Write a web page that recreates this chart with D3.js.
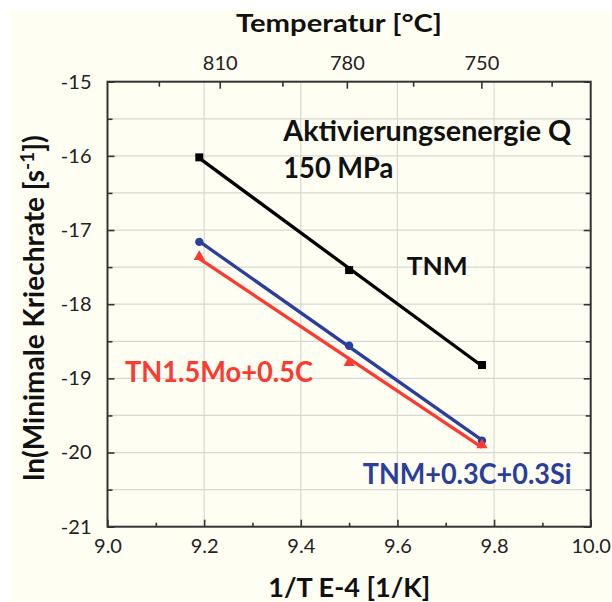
<!DOCTYPE html>
<html>
<head>
<meta charset="utf-8">
<script src="https://cdn.jsdelivr.net/npm/d3@7"></script>
<style>
  body { margin: 0; background: #fff; }
  svg { display: block; }
  text { font-family: Lato, "Open Sans", sans-serif; }
</style>
</head>
<body>
<svg id="chart" width="612" height="602"></svg>
<script>
// data
var invT = [9.19, 9.50, 9.775];          // 1/T E-4 [1/K]
var tnm = [-16.02, -17.54, -18.82];
var tnmCSi = [-17.16, -18.56, -19.84];
var tnMoC = [-17.36, -18.79, -19.90];
var xTicks = [9.0, 9.2, 9.4, 9.6, 9.8, 10.0];
var yTicks = [-21, -20, -19, -18, -17, -16, -15];
var tempTicks = [810, 780, 750];
var tempMinor = [825, 795, 765, 735];

var svg = d3.select("#chart");

// plot box (don't call it "top", that one belongs to window)
var pLeft = 107.5, pRight = 590.7, pTop = 81.7, pBottom = 526.7;

var x = d3.scaleLinear().domain([9, 10]).range([pLeft, pRight]);
var y = d3.scaleLinear().domain([-21, -15]).range([pBottom, pTop]);

// cream page
svg.append("rect").attr("x", 10).attr("y", 10).attr("width", 602).attr("height", 592).attr("fill", "#fefef3");

// grid
var grid = svg.append("g").attr("stroke", "#d8d8d2").attr("stroke-width", 1.2);
grid.selectAll(".gy").data(d3.range(-20.5, -15, 0.5)).enter().append("line")
  .attr("x1", pLeft).attr("x2", pRight)
  .attr("y1", function(d) { return y(d); }).attr("y2", function(d) { return y(d); });
grid.selectAll(".gx").data([9.2, 9.4, 9.6, 9.8]).enter().append("line")
  .attr("y1", pTop).attr("y2", pBottom)
  .attr("x1", function(d) { return x(d); }).attr("x2", function(d) { return x(d); });

// axes, ticks inward
var xBottom = d3.axisBottom(x).tickValues(xTicks).tickSize(-7).tickPadding(12).tickFormat(d3.format(".1f"));
var xMinor = d3.axisBottom(x).tickValues(d3.range(9.1, 10, 0.2)).tickSize(-4).tickFormat("");
// plain hyphen like the original, not the unicode minus
var yLeft = d3.axisLeft(y).tickValues(yTicks).tickSize(-7).tickPadding(16).tickFormat(function(d) { return "" + d; });
var yMinor = d3.axisLeft(y).tickValues(d3.range(-20.5, -15, 1)).tickSize(-5).tickFormat("");
var yRight = d3.axisRight(y).tickValues(yTicks).tickSize(-7).tickFormat("");
var yRightMinor = d3.axisRight(y).tickValues(d3.range(-20.5, -15, 1)).tickSize(-5).tickFormat("");

// top temperature axis: °C -> 1e4 / K
var xTop = d3.axisTop(x).tickValues(tempTicks.map(function(t) { return 1e4 / (t + 273.15); }))
  .tickSize(-7).tickPadding(12).tickFormat(function(d, i) { return tempTicks[i]; });
var xTopMinor = d3.axisTop(x).tickValues(tempMinor.map(function(t) { return 1e4 / (t + 273.15); }))
  .tickSize(-5).tickFormat("");

function styleAxis(g) {
  g.select(".domain").remove();
  g.selectAll(".tick line").attr("stroke", "#333").attr("stroke-width", 1.6);
  g.selectAll(".tick text").attr("fill", "#222").style("font-size", "20px").style("font-family", "Lato, sans-serif");
}

svg.append("g").attr("transform", "translate(0," + pBottom + ")").call(xBottom).call(styleAxis);
svg.append("g").attr("transform", "translate(0," + pBottom + ")").call(xMinor).call(styleAxis);
svg.append("g").attr("transform", "translate(" + pLeft + ",0)").call(yLeft).call(styleAxis);
svg.append("g").attr("transform", "translate(" + pLeft + ",0)").call(yMinor).call(styleAxis);
svg.append("g").attr("transform", "translate(" + pRight + ",0)").call(yRight).call(styleAxis);
svg.append("g").attr("transform", "translate(" + pRight + ",0)").call(yRightMinor).call(styleAxis);
svg.append("g").attr("transform", "translate(0," + pTop + ")").call(xTop).call(styleAxis);
svg.append("g").attr("transform", "translate(0," + pTop + ")").call(xTopMinor).call(styleAxis);

// frame
svg.append("rect").attr("x", pLeft).attr("y", pTop).attr("width", pRight - pLeft).attr("height", pBottom - pTop)
  .attr("fill", "none").attr("stroke", "#333").attr("stroke-width", 2);

// series: least-squares line + markers
var series = [
  { name: "TNM", vals: tnm, color: "#000000", shape: "square" },
  { name: "TNM+0.3C+0.3Si", vals: tnmCSi, color: "#2c3e9c", shape: "circle" },
  { name: "TN1.5Mo+0.5C", vals: tnMoC, color: "#fb3b32", shape: "triangle" }
];

function fit(xs, ys) {
  var mx = d3.mean(xs), my = d3.mean(ys);
  var sxy = d3.sum(xs, function(v, i) { return (v - mx) * (ys[i] - my); });
  var sxx = d3.sum(xs, function(v) { return (v - mx) * (v - mx); });
  var b = sxy / sxx;
  return function(v) { return my + b * (v - mx); };
}

series.forEach(function(s) {
  var f = fit(invT, s.vals);
  var ends = d3.extent(invT);
  svg.append("line")
    .attr("x1", x(ends[0])).attr("y1", y(f(ends[0])))
    .attr("x2", x(ends[1])).attr("y2", y(f(ends[1])))
    .attr("stroke", s.color).attr("stroke-width", 3.3);

  var sym = s.shape == "square" ? d3.symbolSquare : (s.shape == "circle" ? d3.symbolCircle : d3.symbolTriangle);
  var size = s.shape == "square" ? 64 : 55;
  svg.selectAll(null).data(invT).enter().append("path")
    .attr("d", d3.symbol().type(sym).size(size))
    .attr("transform", function(d, i) { return "translate(" + x(d) + "," + y(s.vals[i]) + ")"; })
    .attr("fill", s.color);
});

// labels
function label(txt, lx, ly, size, len, color) {
  return svg.append("text").attr("x", lx).attr("y", ly)
    .attr("fill", color || "#111").attr("font-weight", "bold")
    .style("font-size", size + "px")
    .attr("textLength", len).attr("lengthAdjust", "spacingAndGlyphs")
    .text(txt);
}

label("Aktivierungsenergie Q", 283.3, 141, 28, 288);
label("150 MPa", 283.3, 178.3, 28, 110);
label("TNM", 406.7, 275, 25, 61);
label("TN1.5Mo+0.5C", 125, 381.7, 28, 188, "#fb3b32");
label("TNM+0.3C+0.3Si", 362.7, 484, 28, 209, "#2c3e9c");
label("Temperatur [°C]", 236, 31.7, 24, 206);
label("1/T E-4 [1/K]", 268.3, 596.7, 27, 162);

var yt = svg.append("text")
  .attr("transform", "translate(44,308) rotate(-90)")
  .attr("text-anchor", "middle").attr("fill", "#111").attr("font-weight", "bold")
  .style("font-size", "28px");
yt.append("tspan").text("ln(Minimale Kriechrate [s");
yt.append("tspan").attr("dy", -10).style("font-size", "19px").text("-1");
yt.append("tspan").attr("dy", 10).text("])");
</script>
</body>
</html>
